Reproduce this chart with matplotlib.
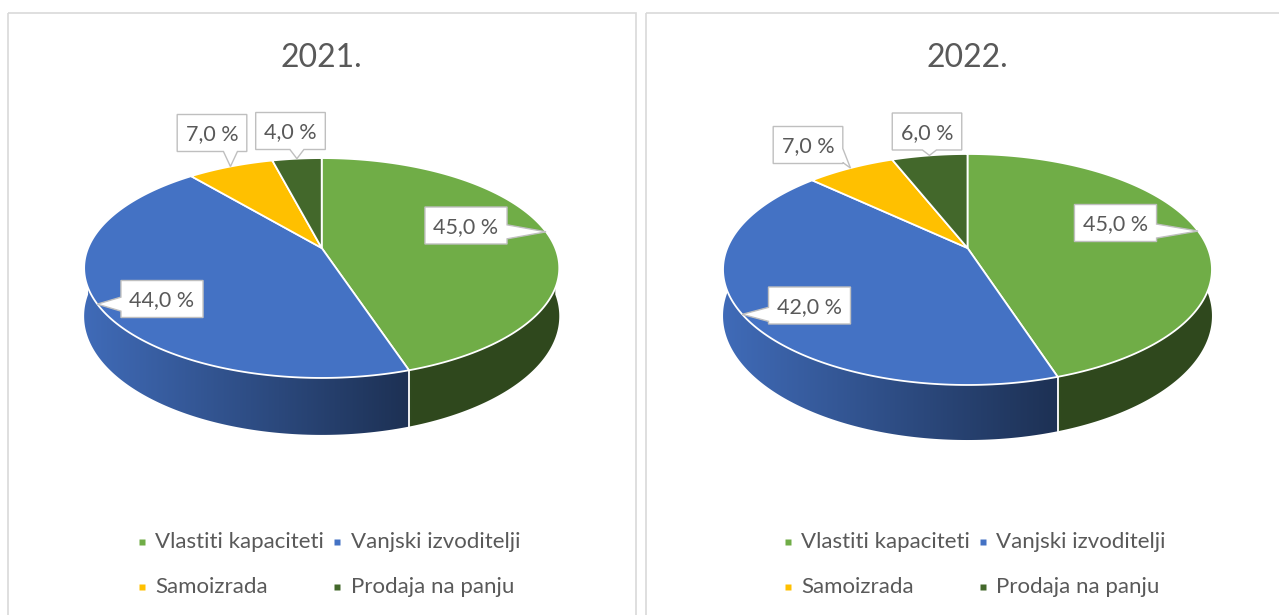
import matplotlib
matplotlib.use("Agg")
import matplotlib.pyplot as plt
import numpy as np
from matplotlib.patches import Polygon, Rectangle
from matplotlib.colors import to_rgb

plt.rcParams['font.family'] = ['Lato', 'DejaVu Sans']

# data
categories = ["Vlastiti kapaciteti", "Vanjski izvoditelji", "Samoizrada", "Prodaja na panju"]
years = ["2021.", "2022."]
share_2021 = [45.0, 44.0, 7.0, 4.0]
share_2022 = [45.0, 42.0, 7.0, 6.0]
colors = ["#70AD47", "#4472C4", "#FFC000", "#43682B"]

# layout (pixels) for each panel
panel_left = [8, 646]
panel_right = [636, 1290]
centre_x = [321.7, 967.5]
apex_y = [248, 248]
rad_x = [233.6, 240.2]
rad_y = [106.3, 111.5]
persp = [0.182, 0.186]
depth = [46.6, 44.8]
# label box centres, one per slice
label_pos = [
    [(466, 225.5), (162, 299), (212, 133), (290.5, 131)],
    [(1115.5, 223), (809.5, 305.5), (808, 145), (927, 131.5)],
]

text_col = "#595959"
W, H = 1279, 615


def project(theta, cx, cy, a, b, k):
    # theta in degrees, clockwise from 12 o'clock
    t = np.radians(theta)
    u = np.sin(t)
    w = -np.cos(t)
    s = 1 / (1 - k * w)
    return cx + a * u * s, cy + b * w * s, s


def callout(ax, cx, cy, w, h, tx, ty, bw=14):
    x0, x1 = cx - w / 2, cx + w / 2
    y0, y1 = cy - h / 2, cy + h / 2
    if tx > x1:
        bc = np.clip(ty, y0 + bw / 2 + 2, y1 - bw / 2 - 1)
        pts = [(x0, y0), (x1, y0), (x1, bc - bw / 2), (tx, ty), (x1, bc + bw / 2), (x1, y1), (x0, y1)]
    elif tx < x0:
        bc = np.clip(ty, y0 + bw / 2 + 2, y1 - bw / 2 - 1)
        pts = [(x0, y0), (x1, y0), (x1, y1), (x0, y1), (x0, bc + bw / 2), (tx, ty), (x0, bc - bw / 2)]
    else:
        bc = np.clip(tx, x0 + bw / 2 + 2, x1 - bw / 2 - 2)
        pts = [(x0, y0), (x1, y0), (x1, y1), (bc + bw / 2, y1), (tx, ty), (bc - bw / 2, y1), (x0, y1)]
    ax.add_patch(Polygon(pts, closed=True, facecolor="white", edgecolor="#BFBFBF",
                         lw=1.0, joinstyle="miter", zorder=5))


fig = plt.figure(figsize=(W / 100, H / 100), dpi=100)
ax = fig.add_axes([0, 0, 1, 1])
renderer = fig.canvas.get_renderer()

for p, values in enumerate([share_2021, share_2022]):
    cx, cy, a, b, k, d = centre_x[p], apex_y[p], rad_x[p], rad_y[p], persp[p], depth[p]

    # panel frame
    ax.add_patch(Rectangle((panel_left[p], 12.5), panel_right[p] - panel_left[p], 700,
                           facecolor="none", edgecolor="#D9D9D9", lw=1.2, zorder=0))

    ax.text(cx, 67, years[p], ha="center", va="baseline", fontsize=23, color=text_col)

    total = sum(values)
    bounds = np.concatenate([[0], np.cumsum(values) / total * 360])
    left = cx - a * 1.02
    right = cx + a * 1.02

    # side walls (front half only), shaded left to right
    for i in range(len(values)):
        s0, s1 = max(bounds[i], 90), min(bounds[i + 1], 270)
        if s1 <= s0:
            continue
        th = np.linspace(s0, s1, 120)
        xt, yt, sc = project(th, cx, cy, a, b, k)
        yb = yt + d * sc
        poly = Polygon(np.column_stack([np.r_[xt, xt[::-1]], np.r_[yt, yb[::-1]]]),
                       closed=True, facecolor="none", edgecolor="none")
        ax.add_patch(poly)
        xs = np.linspace(left, right, 300)
        frac = (xs - left) / (right - left)
        f = np.clip(0.94 - 0.75 * frac, 0.42, 1)
        rgb = np.array(to_rgb(colors[i]))[None, None, :] * f[None, :, None]
        im = ax.imshow(rgb, extent=(left, right, yb.max() + 2, yt.min() - 2),
                       aspect="auto", interpolation="bilinear", zorder=1)
        im.set_clip_path(poly)

    # white seams on the side at slice borders
    for t in bounds[1:-1]:
        if 95 < t < 265:
            xt, yt, sc = project(t, cx, cy, a, b, k)
            ax.plot([xt, xt], [yt, yt + d * sc], color="white", lw=1.3, zorder=2)

    # top face
    for i in range(len(values)):
        th = np.linspace(bounds[i], bounds[i + 1], 150)
        xt, yt, _ = project(th, cx, cy, a, b, k)
        pts = np.column_stack([np.r_[cx, xt], np.r_[cy, yt]])
        ax.add_patch(Polygon(pts, closed=True, facecolor=colors[i], edgecolor="white",
                             lw=1.3, joinstyle="round", zorder=3))

    # data labels
    for i, v in enumerate(values):
        mid = (bounds[i] + bounds[i + 1]) / 2
        tx, ty, _ = project(mid, cx, cy, a, b, k)
        lx, ly = label_pos[p][i]
        lab = f"{v:.1f} %".replace(".", ",")
        t = ax.text(lx, ly + 7.5, lab, ha="center", va="baseline", fontsize=15.5,
                    color=text_col, zorder=6)
        tw = t.get_window_extent(renderer=renderer).width
        callout(ax, lx, ly, tw + 17, 37, tx, ty)

    # legend
    cols = [cx - 180, cx + 15.5]
    rows = [548, 593]
    for i, name in enumerate(categories):
        mx = cols[i % 2]
        my = rows[i // 2]
        ax.plot(mx, my - 6, marker="s", ms=5, color=colors[i], mec="none", ls="none")
        ax.text(mx + 13.5, my, name, ha="left", va="baseline", fontsize=16, color=text_col)

ax.set_xlim(0, W)
ax.set_ylim(H, 0)
ax.axis("off")

fig.savefig("out.png", dpi=100, facecolor="white")
